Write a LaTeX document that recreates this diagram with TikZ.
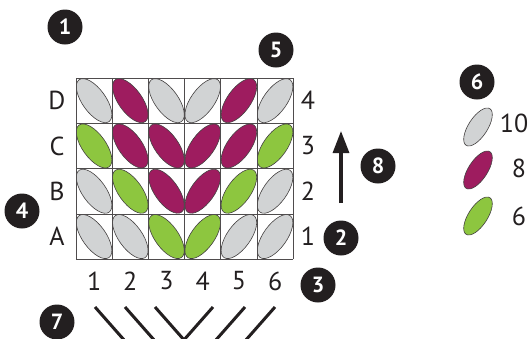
\documentclass[tikz,border=0pt]{standalone}
\usepackage{fontspec}
\setmainfont{PT Sans}
\usetikzlibrary{shapes.geometric,arrows.meta}
\definecolor{leafg}{HTML}{D1D3D4}
\definecolor{leafm}{HTML}{9E1C5F}
\definecolor{leafn}{HTML}{8DC63F}
\definecolor{ink}{HTML}{231F20}
\begin{document}
\begin{tikzpicture}[x=1pt,y=-1pt,
  leaf/.style={ellipse, draw=ink!85, line width=0.6pt, minimum width=51.5pt, minimum height=23.5pt, inner sep=0pt},
  keyleaf/.style={ellipse, draw=ink!85, line width=0.6pt, minimum width=43.6pt, minimum height=19pt, inner sep=0pt, rotate=57},
  gridline/.style={draw=ink!80, line width=0.7pt},
  lbl/.style={font=\fontsize{26}{26}\selectfont, text=ink, inner sep=0pt},
  badge/.style={circle, fill=ink, text=white, minimum size=35pt, inner sep=0pt, font=\bfseries\fontsize{22}{22}\selectfont},
  stitch/.style={draw=ink, line width=3pt},
  rowarrow/.style={draw=ink, line width=3.2pt, -{Triangle[width=16pt,length=22pt]}}
]
\useasboundingbox (0,0) rectangle (531,338);

% leaves
\foreach \r/\rn/\cols in {1/D/{g,m,g,g,m,g}, 2/C/{n,m,m,m,m,n}, 3/B/{g,n,m,m,n,g}, 4/A/{g,g,n,n,g,g}} {
  \foreach \c [count=\ci] in \cols {
    \pgfmathsetmacro\ang{\ci<4 ? -54.4 : 54.4}
    \node[leaf, fill=leaf\c, rotate=\ang] (\rn\ci) at ({76+(\ci-0.5)*36.2},{78+(\r-0.5)*45.3}) {};
  }
}

% grid
\foreach \i in {0,...,6} \draw[gridline] ({76+\i*36.2},78) -- ({76+\i*36.2},259.2);
\foreach \j in {0,...,4} \draw[gridline] (76,{78+\j*45.3}) -- (293.2,{78+\j*45.3});

% row labels
\foreach \rn/\rv [count=\r] in {D/4, C/3, B/2, A/1} {
  \node[lbl] (L\rn) at (57,{78+(\r-0.5)*45.3}) {\rn};
  \node[lbl] (R\rn) at (308,{78+(\r-0.5)*45.3}) {\rv};
}
% column labels
\foreach \ci in {1,...,6} \node[lbl] (col\ci) at ({76+(\ci-0.5)*36.2},281) {\ci};

% legend
\node[keyleaf, fill=leafg] (kg) at (478,127) {};
\node[keyleaf, fill=leafm] (km) at (478,170) {};
\node[keyleaf, fill=leafn] (kn) at (478,216) {};
\node[lbl] (kgt) at (514,123) {10};
\node[lbl] (kmt) at (519,168) {8};
\node[lbl] (knt) at (519,216) {6};

% direction arrow
\coordinate (arrS) at (341,203);
\coordinate (arrE) at (341,131);
\draw[rowarrow] (arrS) -- (arrE);

% stitch lines
\foreach \k/\xt/\dx in {1/95/33.5, 2/125/33.5, 3/155/33.5, 4/213/-33.5, 5/245/-33.5, 6/275/-33.5} {
  \coordinate (s\k t) at (\xt,307);
  \coordinate (s\k b) at ({\xt+\dx},345);
  \draw[stitch] (s\k t) -- (s\k b);
}

% badges
\node[badge] (b1) at (65,27) {1};
\node[badge] (b2) at (341,238) {2};
\node[badge] (b3) at (318,285) {3};
\node[badge] (b4) at (22,211) {4};
\node[badge] (b5) at (276,50) {5};
\node[badge] (b6) at (477,82) {6};
\node[badge] (b7) at (57,322) {7};
\node[badge] (b8) at (378,166) {8};
\end{tikzpicture}
\end{document}
